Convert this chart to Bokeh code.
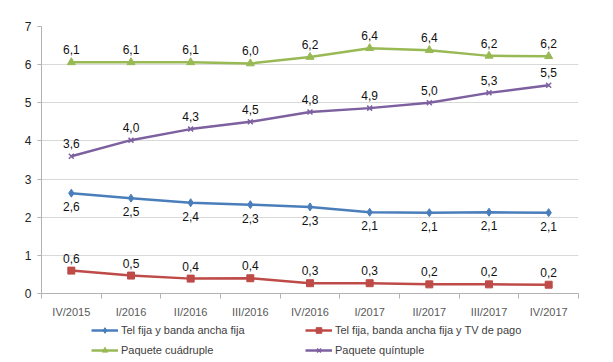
from bokeh.plotting import figure
from bokeh.layouts import column
from bokeh.models import ColumnDataSource, Legend, LegendItem, FixedTicker, Range1d
from bokeh.core.properties import value
from bokeh.embed import file_html
from bokeh.resources import INLINE

categories = ["IV/2015", "I/2016", "II/2016", "III/2016", "IV/2016", "I/2017", "II/2017", "III/2017", "IV/2017"]
tel_banda = [2.63, 2.50, 2.38, 2.33, 2.27, 2.13, 2.12, 2.13, 2.12]
tel_banda_tv = [0.60, 0.47, 0.39, 0.40, 0.27, 0.27, 0.24, 0.24, 0.23]
cuadruple = [6.06, 6.06, 6.06, 6.03, 6.20, 6.43, 6.38, 6.23, 6.22]
quintuple = [3.60, 4.02, 4.31, 4.50, 4.76, 4.86, 5.00, 5.26, 5.46]
y_ticks = [0, 1, 2, 3, 4, 5, 6, 7]

series = [
    ("Tel fija y banda ancha fija", tel_banda, "#4a7ebb", "diamond", 8, "below"),
    ("Tel fija, banda ancha fija y TV de pago", tel_banda_tv, "#be4b48", "square", 7, "above"),
    ("Paquete cuádruple", cuadruple, "#98b954", "triangle", 8, "above"),
    ("Paquete quíntuple", quintuple, "#7d60a0", "x", 7, "above"),
]

xs = [i + 0.5 for i in range(len(categories))]

p = figure(width=613, height=320, output_backend="svg", toolbar_location=None,
           x_range=Range1d(0, len(categories)), y_range=Range1d(0, 7),
           min_border_left=41, min_border_right=35, min_border_top=26, min_border_bottom=27)
p.outline_line_color = None
p.background_fill_color = "white"
p.border_fill_color = "white"

p.xgrid.grid_line_color = None
p.ygrid.grid_line_color = "#d9d9d9"
p.ygrid.grid_line_width = 1
p.yaxis.ticker = FixedTicker(ticks=y_ticks)
p.xaxis.ticker = FixedTicker(ticks=xs, minor_ticks=list(range(len(categories) + 1)))
p.xaxis.major_label_overrides = {x: c for x, c in zip(xs, categories)}

for ax in (p.xaxis[0], p.yaxis[0]):
    ax.axis_line_color = "#b3b3b3"
    ax.major_label_text_font = "Liberation Sans"
    ax.major_label_text_color = "#404040"

p.xaxis.major_tick_line_color = None
p.xaxis.major_tick_out = 0
p.xaxis.major_tick_in = 0
p.xaxis.minor_tick_line_color = "#b3b3b3"
p.xaxis.minor_tick_out = 5
p.xaxis.minor_tick_in = 0
p.xaxis.major_label_standoff = 7
p.xaxis.major_label_text_color = "#595959"
p.xaxis.major_label_text_font_size = "11px"

p.yaxis.major_tick_line_color = "#b3b3b3"
p.yaxis.major_tick_out = 4
p.yaxis.major_tick_in = 0
p.yaxis.minor_tick_line_color = None
p.yaxis.major_label_text_font_size = "12px"
p.yaxis.major_label_text_color = "#222222"
p.yaxis.major_label_standoff = 6

# legend figure (renderers drawn outside its visible range, legend only)
pl = figure(width=613, height=42, output_backend="svg", toolbar_location=None,
            x_range=Range1d(-100, -99), y_range=Range1d(-100, -99),
            x_axis_location=None, y_axis_location=None,
            min_border_left=0, min_border_right=0, min_border_top=0, min_border_bottom=0)
pl.outline_line_color = None
pl.xgrid.grid_line_color = None
pl.ygrid.grid_line_color = None

items = []
for name, vals, color, marker, size, pos in series:
    labels = [f"{v:.1f}".replace(".", ",") for v in vals]
    src = ColumnDataSource(dict(x=xs, y=vals, label=labels))
    p.line("x", "y", source=src, line_color=color, line_width=2.5)
    if marker == "x":
        p.scatter("x", "y", source=src, marker=marker, size=size, line_color=color, line_width=1.5)
    else:
        p.scatter("x", "y", source=src, marker=marker, size=size, fill_color=color, line_color=color)
    if pos == "above":
        p.text("x", "y", text="label", source=src, text_align="center", text_baseline="bottom",
               y_offset=-8, text_font=value("Liberation Sans"), text_font_size="12px", text_color="#111111")
    else:
        p.text("x", "y", text="label", source=src, text_align="center", text_baseline="top",
               y_offset=9, text_font=value("Liberation Sans"), text_font_size="12px", text_color="#111111")
    ln = pl.line("x", "y", source=src, line_color=color, line_width=2.5)
    if marker == "x":
        sc = pl.scatter("x", "y", source=src, marker=marker, size=size - 1, line_color=color, line_width=1.5)
    else:
        sc = pl.scatter("x", "y", source=src, marker=marker, size=size - 1, fill_color=color, line_color=color)
    items.append(LegendItem(label=name, renderers=[ln, sc]))

legend_style = dict(orientation="vertical", padding=0, spacing=6, margin=0, glyph_width=27,
                    glyph_height=14, label_height=14, label_standoff=3,
                    label_text_font="Liberation Sans", label_text_font_size="11px",
                    label_text_color="#404040", border_line_color=None, background_fill_alpha=0)
legend_a = Legend(items=[items[0], items[2]], location=(50, 5), **legend_style)
legend_b = Legend(items=[items[1], items[3]], location=(264, 5), **legend_style)
pl.add_layout(legend_a, "center")
pl.add_layout(legend_b, "center")

layout = column(p, pl, spacing=0)
open("out.html", "w").write(file_html(layout, INLINE))
